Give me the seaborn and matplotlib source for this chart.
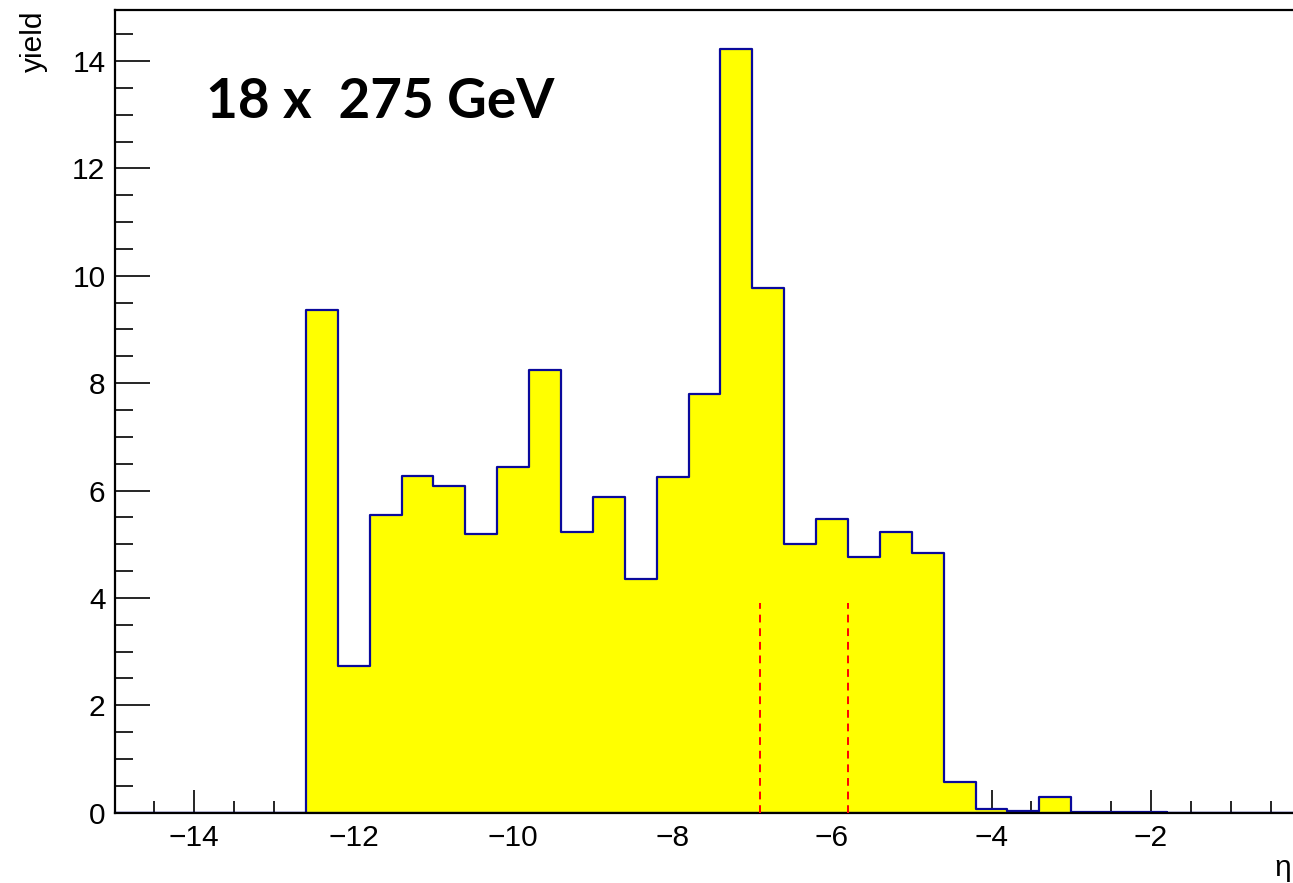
import numpy as np
import pandas as pd
import matplotlib
matplotlib.use("Agg")
import matplotlib.pyplot as plt
from matplotlib.ticker import MultipleLocator
import seaborn as sns

# ---- data ----
bin_edges = [round(-15.0 + 0.4 * i, 2) for i in range(38)]   # -15.0 .. -0.2
yields = [0, 0, 0, 0, 0, 0,                     # -15.0 .. -12.6
          9.36, 2.74, 5.54, 6.28, 6.09, 5.20,   # -12.6 .. -10.2
          6.44, 8.25, 5.22, 5.88, 4.35, 6.25,   # -10.2 .. -7.8
          7.80, 14.22, 9.77, 5.00, 5.47, 4.77,  # -7.8 .. -5.4
          5.22, 4.84, 0.58, 0.075, 0.04, 0.29,  # -5.4 .. -3.0
          0.01, 0.005, 0.005, 0, 0, 0, 0]       # -3.0 .. -0.2
cut_lines = [-6.9, -5.8]
cut_height = 3.9
title_text = "18 x  275 GeV"
x_label = "η"
y_label = "yield"

edges_arr = np.array(bin_edges)
centers = (edges_arr[:-1] + edges_arr[1:]) / 2
df = pd.DataFrame({"eta": centers, "yield": yields})

sns.set_theme(style="ticks")
plt.rcParams["font.family"] = ["Liberation Sans", "DejaVu Sans"]
plt.rcParams["axes.unicode_minus"] = True
plt.rcParams["text.color"] = "black"

W, H = 1293, 883
fig = plt.figure(figsize=(W / 100, H / 100), dpi=100)
left_px, right_px, top_px, bottom_px = 114.5, 1294.5, 10.0, 812.7
ax = fig.add_axes([left_px / W, (H - bottom_px) / H,
                   (right_px - left_px) / W, (bottom_px - top_px) / H])

sns.histplot(data=df, x="eta", weights="yield", bins=bin_edges,
             element="step", fill=True, color="#ffff00", alpha=1,
             edgecolor="#0a0a9c", linewidth=1.6, ax=ax)

ax.vlines(cut_lines, 0, cut_height, colors="#ff0000", linestyles=(0, (4, 3)),
          linewidth=1.4, zorder=5)

ax.set_xlim(-15, -0.2)
ax.set_ylim(0, 14.95)

ax.xaxis.set_major_locator(MultipleLocator(2))
ax.xaxis.set_minor_locator(MultipleLocator(0.5))
ax.yaxis.set_major_locator(MultipleLocator(2))
ax.yaxis.set_minor_locator(MultipleLocator(0.5))

ax.tick_params(axis="x", which="major", direction="in", length=16.5, width=1.2,
               labelsize=21.5, pad=8, colors="black", top=False)
ax.tick_params(axis="x", which="minor", direction="in", length=8.5, width=1.2,
               colors="black", top=False)
ax.tick_params(axis="y", which="major", direction="in", length=25, width=1.2,
               labelsize=21.5, pad=6.5, colors="black", right=False)
ax.tick_params(axis="y", which="minor", direction="in", length=13, width=1.2,
               colors="black", right=False)

for s in ax.spines.values():
    s.set_linewidth(1.6)
    s.set_color("black")

ax.set_xlabel("")
ax.set_ylabel("")
fig.text(48 / W, 1 - 11 / H, y_label, rotation=90, ha="right", va="top",
         fontsize=21.5, color="black")
fig.text(1291 / W, 1 - 882 / H, x_label, ha="right", va="bottom",
         fontsize=21.5, color="black")

ax.text(0.0775, 0.8655, title_text, transform=ax.transAxes, fontsize=39.5,
        fontweight="bold", family=["Lato", "DejaVu Sans"], color="black",
        ha="left", va="baseline")

fig.savefig("out.png", dpi=100)
